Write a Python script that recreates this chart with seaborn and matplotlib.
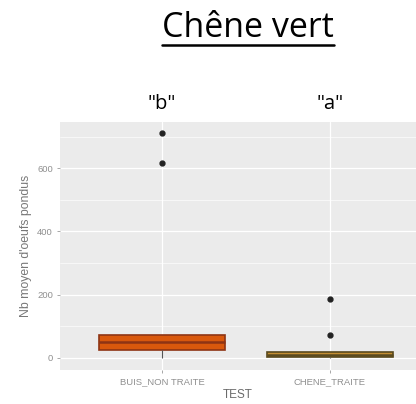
import numpy as np
import pandas as pd
import matplotlib
matplotlib.use("Agg")
import matplotlib.pyplot as plt
import matplotlib.transforms as mtransforms
from matplotlib.lines import Line2D
from matplotlib.ticker import MultipleLocator
import seaborn as sns

# Mean number of eggs laid per observation, by test group
buis_non_traite = [0, 15, 25, 38, 50, 60, 72, 616, 711]
chene_traite = [0, 1, 2, 5, 8, 12, 18, 73, 186]
groups = ["BUIS_NON TRAITE", "CHENE_TRAITE"]
letters = ['"b"', '"a"']
fill_colors = ["#D9580C", "#C48E32"]
edge_colors = ["#8E3414", "#5A4A1E"]
y_ticks = [0, 200, 400, 600]

df = pd.DataFrame({
    "TEST": [groups[0]] * len(buis_non_traite) + [groups[1]] * len(chene_traite),
    "oeufs": buis_non_traite + chene_traite,
})

sns.set_theme(style="darkgrid", rc={
    "axes.facecolor": "#EBEBEB",
    "grid.color": "white",
    "axes.edgecolor": "#EBEBEB",
})

fig = plt.figure(figsize=(4.16, 4.04), dpi=100)
ax = fig.add_axes([60 / 416, 34 / 404, 356 / 416, 248 / 404])

sns.boxplot(data=df, x="TEST", y="oeufs", hue="TEST", order=groups,
            hue_order=groups, palette=fill_colors, saturation=1, width=0.75,
            linewidth=1.2, legend=False, ax=ax,
            flierprops=dict(marker="o", markersize=3.5,
                            markerfacecolor="#222222", markeredgecolor="#222222"),
            whiskerprops=dict(color="#555555", linewidth=0.8),
            capprops=dict(linewidth=0))

# dark outlines and medians per box
for patch, ec in zip(ax.patches, edge_colors):
    patch.set_edgecolor(ec)
lines = ax.lines
per_box = len(lines) // len(groups)
for i, ec in enumerate(edge_colors):
    for ln in lines[i * per_box:(i + 1) * per_box]:
        x = ln.get_xdata()
        if ln.get_marker() != "o" and len(x) == 2 and abs(x[1] - x[0]) > 0.5:
            ln.set_color(ec)
            ln.set_linewidth(1.8)

ax.set_xlim(-0.607, 1.512)
ax.set_ylim(-38, 746)
ax.set_yticks(y_ticks)
ax.set_yticklabels([str(v) for v in y_ticks])
ax.yaxis.set_minor_locator(MultipleLocator(100))
ax.grid(which="major", color="white", linewidth=0.9)
ax.grid(which="minor", axis="y", color="white", linewidth=0.45)
ax.set_axisbelow(True)

ax.tick_params(axis="both", which="major", length=2.5, width=0.6, color="#999999",
               labelsize=6.8, labelcolor="#8f8f8f", pad=2.5, left=True, bottom=True)
ax.tick_params(axis="y", which="minor", length=0)
for lab in ax.get_xticklabels() + ax.get_yticklabels():
    lab.set_family("Liberation Sans")
ax.set_xlabel("TEST", fontsize=8.5, color="#6a6a6a", labelpad=2, family="Liberation Sans")
ax.set_ylabel("Nb moyen d'oeufs pondus", fontsize=8.8, color="#777777", labelpad=4,
              family="Liberation Sans")
for s in ax.spines.values():
    s.set_visible(False)

# group letters above each box
trans = mtransforms.blended_transform_factory(ax.transData, fig.transFigure)
for i, lab in enumerate(letters):
    fig.text(i, 1 - 104 / 404, lab, transform=trans, ha="center", va="center",
             fontsize=14.5, family="Open Sans", color="black")

# underlined title
title = fig.text(248 / 416, 1 - 37 / 404, "Chêne vert", ha="center", va="baseline",
                 fontsize=24.5, family="Open Sans", color="black")
fig.canvas.draw()
bb = title.get_window_extent()
y_ul = 1 - 45 / 404
fig.add_artist(Line2D([bb.x0 / fig.bbox.width, bb.x1 / fig.bbox.width], [y_ul, y_ul],
                      transform=fig.transFigure, color="black", linewidth=1.8))

fig.savefig("out.png", dpi=100, facecolor="white")
